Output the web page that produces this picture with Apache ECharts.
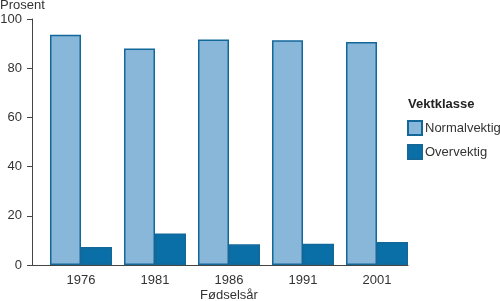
<!DOCTYPE html>
<html>
<head>
<meta charset="utf-8">
<script src="https://cdn.jsdelivr.net/npm/echarts@6/dist/echarts.min.js"></script>
<style>html,body{margin:0;padding:0;background:#fff}#c{width:500px;height:301px}</style>
</head>
<body>
<div id="c"></div>
<script>
const categories = ['1976', '1981', '1986', '1991', '2001'];
const normalvektig = [93.6, 88.0, 91.7, 91.4, 90.6];
const overvektig = [7.3, 12.8, 8.4, 8.6, 9.3];
const yTicks = [0, 20, 40, 60, 80, 100];

const font = 'Liberation Sans, Arial, sans-serif';
const txt = '#333';
const chart = echarts.init(document.getElementById('c'), null, {renderer: 'canvas'});
chart.setOption({
  animation: false,
  textStyle: {fontFamily: font},
  title: [
    {text: 'Prosent', left: 0, top: -1, padding: 0, textStyle: {fontSize: 13, fontWeight: 'normal', color: txt, fontFamily: font}},
    {text: 'Vektklasse', left: 408, top: 98, padding: 0, textStyle: {fontSize: 13, fontWeight: 'bold', color: '#222', fontFamily: font}}
  ],
  legend: {
    orient: 'vertical', left: 407, top: 120, padding: 0,
    itemWidth: 14, itemHeight: 14, itemGap: 8,
    icon: 'rect',
    textStyle: {fontSize: 13, color: txt, fontFamily: font, padding: [0, 0, 0, -2]},
    data: ['Normalvektig', 'Overvektig']
  },
  grid: [
    {left: 44, right: 86, top: 19, bottom: 36, containLabel: false, outerBoundsMode: 'none'},
    {left: 32, right: 92, top: 19, bottom: 36, containLabel: false, outerBoundsMode: 'none'}
  ],
  xAxis: [
    {type: 'category', gridIndex: 0, data: categories, boundaryGap: true,
     axisLine: {show: false}, axisTick: {show: false},
     axisLabel: {fontSize: 13, color: txt, margin: 9, fontFamily: font},
     name: 'Fødselsår', nameLocation: 'middle', nameGap: 23, nameMoveOverlap: false,
     nameTextStyle: {fontSize: 13, color: txt, fontFamily: font, verticalAlign: 'top', lineHeight: 14}},
    {type: 'value', gridIndex: 1, min: 0, max: 1,
     axisLine: {show: true, lineStyle: {color: '#444', width: 1}},
     axisTick: {show: false}, axisLabel: {show: false}, splitLine: {show: false}}
  ],
  yAxis: [
    {type: 'value', gridIndex: 0, min: 0, max: 100, interval: 20, show: false},
    {type: 'value', gridIndex: 1, min: yTicks[0], max: yTicks[yTicks.length - 1], interval: 20,
     axisLine: {show: true, lineStyle: {color: '#444', width: 1}},
     axisTick: {show: true, length: 5, inside: false, lineStyle: {color: '#444'}},
     axisLabel: {fontSize: 13, color: txt, margin: 10, fontFamily: font},
     splitLine: {show: false}}
  ],
  series: [
    {name: 'Normalvektig', type: 'bar', xAxisIndex: 0, yAxisIndex: 0, data: normalvektig,
     barGap: '0%', barCategoryGap: '16.2%',
     itemStyle: {color: '#88b7da', borderColor: '#13689a', borderWidth: 1.5}},
    {name: 'Overvektig', type: 'bar', xAxisIndex: 0, yAxisIndex: 0, data: overvektig,
     barGap: '0%', barCategoryGap: '16.2%',
     itemStyle: {color: '#0a6fa6', borderColor: '#13689a', borderWidth: 1.5}}
  ]
});
</script>
</body>
</html>
